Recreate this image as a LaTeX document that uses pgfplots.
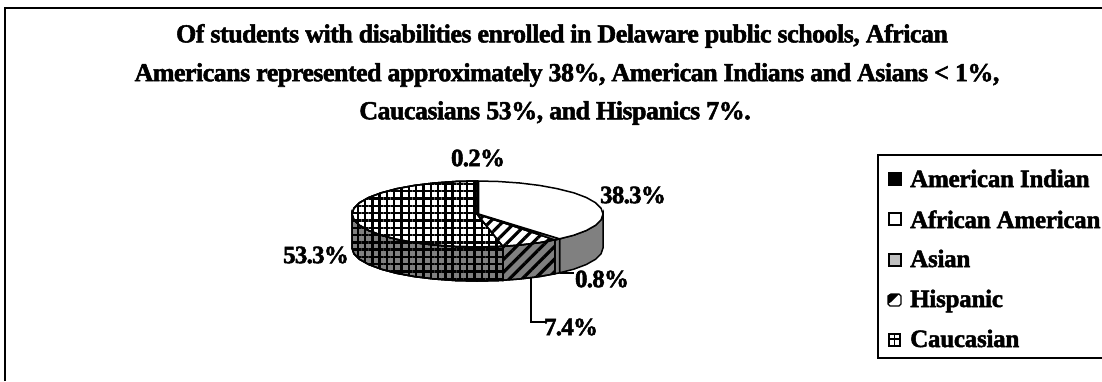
\documentclass[border=0pt]{standalone}
\usepackage{pgfplots}
\pgfplotsset{compat=1.18}
\usepackage{fontspec}
\setmainfont{Liberation Serif}[BoldFeatures={FakeBold=2}]
\usetikzlibrary{patterns.meta}
\tikzset{
  gridfill/.style={
    preaction={fill=#1},
    preaction={pattern={Lines[distance=7.3pt,angle=0,line width=2.4pt]},pattern color=black},
    pattern={Lines[distance=7.3pt,angle=90,line width=2.4pt]},pattern color=black,
    draw=black,line width=1.5pt},
  stripefill/.style={
    preaction={fill=#1},
    pattern={Lines[distance=9pt,angle=45,line width=3.2pt]},pattern color=black,
    draw=black,line width=1.5pt},
  plainfill/.style={fill=#1,draw=black,line width=1.5pt},
}
\begin{document}
\begin{tikzpicture}
\useasboundingbox (0,0) rectangle (1102pt,381pt);
\begin{axis}[
  at={(0,0)},anchor=south west,
  width=1102pt,height=381pt,scale only axis,
  xmin=0,xmax=1102,ymin=0,ymax=381,y dir=reverse,
  hide axis,clip=false,
]
% outer frame and legend box, both open towards the right edge
\addplot[black,line width=2pt] coordinates {(5,381)(5,7.5)(1102,7.5)};
\addplot[black,line width=2pt] coordinates {(1102,155)(878,155)(878,358)(1102,358)};

% side walls of the pie, from the back right round to the left
\addplot[plainfill={gray}] coordinates {
 (603,214)(601.1,219.7)(595.5,225.3)(586.3,230.5)(573.8,235.2)(559.6,238.8)
 (559.6,272.8)(573.8,269.2)(586.3,264.5)(595.5,259.3)(601.1,253.7)(603,248)} --cycle;
\addplot[plainfill={gray}] coordinates {
 (559.6,238.8)(554.8,239.8)(554.8,273.8)(559.6,272.8)} --cycle;
\addplot[stripefill={gray}] coordinates {
 (554.8,239.8)(539.5,242.6)(519.8,245.0)(502.8,246.3)
 (502.8,280.3)(519.8,279.0)(539.5,276.6)(554.8,273.8)} --cycle;
\addplot[gridfill={gray}] coordinates {
 (502.8,246.3)(498.7,246.5)(477,247)(455.3,246.5)(434.2,245.0)(414.5,242.6)(396.6,239.3)
 (381.2,235.2)(368.7,230.5)(359.5,225.3)(353.9,219.7)(352,214)
 (352,248)(353.9,253.7)(359.5,259.3)(368.7,264.5)(381.2,269.2)(396.6,273.3)(414.5,276.6)
 (434.2,279.0)(455.3,280.5)(477,281)(498.7,280.5)(502.8,280.3)} --cycle;

% top face: Caucasian 53.3
\addplot[gridfill=white] coordinates {
 (477,214)(502.8,246.3)(498.7,246.5)(477,247)(455.3,246.5)(434.2,245.0)(414.5,242.6)
 (396.6,239.3)(381.2,235.2)(368.7,230.5)(359.5,225.3)(353.9,219.7)(352,214)(353.9,208.3)
 (359.5,202.7)(368.7,197.5)(381.2,192.8)(396.6,188.7)(414.5,185.4)(434.2,183.0)(455.3,181.5)(477,181)} --cycle;
% top face: Hispanic 7.4
\addplot[stripefill=white] coordinates {
 (477,214)(554.8,239.8)(539.5,242.6)(519.8,245.0)(502.8,246.3)} --cycle;
% top face: Asian 0.8
\addplot[plainfill={gray!50}] coordinates {
 (477,214)(559.6,238.8)(554.8,239.8)} --cycle;
% top face: African American 38.3
\addplot[plainfill=white] coordinates {
 (478.6,214)(478.6,181)(498.7,181.5)(519.8,183.0)(539.5,185.4)(557.4,188.7)(573.8,192.8)
 (586.3,197.5)(595.5,202.7)(601.1,208.3)(603,214)(601.1,219.7)(595.5,225.3)(586.3,230.5)
 (573.8,235.2)(559.6,238.8)} --cycle;
% top face: American Indian 0.2
\addplot[fill=black,draw=black,line width=1pt] coordinates {
 (477,214)(477,181)(478.6,181)(478.6,214)} --cycle;

% leader lines
\addplot[black,line width=1.5pt] coordinates {(531,277)(531,322)(546,322)};
\addplot[black,line width=1.5pt] coordinates {(560,273)(574,273)};

% legend swatches
\addplot[fill=black,draw=black,line width=1.3pt] coordinates {(889,173)(901,173)(901,185)(889,185)} --cycle;
\addplot[fill=white,draw=black,line width=1.3pt] coordinates {(889,213)(901,213)(901,225)(889,225)} --cycle;
\addplot[fill=gray!50,draw=black,line width=1.3pt] coordinates {(889,254)(901,254)(901,266)(889,266)} --cycle;
\addplot[fill=white,draw=black,line width=1.3pt] coordinates {(891,294)(899,294)(901,296)(901,304)(899,306)(890,306)(888,304)(888,296)} --cycle;
\addplot[fill=black,draw=none] coordinates {(891,294)(899,294)(891,302)(888,304)(888,296)} --cycle;
\addplot[fill=white,draw=black,line width=1.3pt] coordinates {(889,334)(900,334)(900,346)(889,346)} --cycle;
\addplot[black,line width=1.2pt] coordinates {(889,339)(900,339)};
\addplot[black,line width=1.2pt] coordinates {(894.5,334)(894.5,346)};

% legend texts, title and percentage labels
\begin{scope}[every node/.style={font=\fontsize{26}{28}\selectfont\bfseries\addfontfeature{LetterSpace=-2},inner sep=0pt}]
\node at (axis cs:562,36) {Of students with disabilities enrolled in Delaware public schools, African};
\node at (axis cs:567,75) {Americans represented approximately 38\%, American Indians and Asians < 1\%,};
\node at (axis cs:555,113) {Caucasians 53\%, and Hispanics 7\%.};
\end{scope}
\begin{scope}[every node/.style={font=\fontsize{25}{27}\selectfont\bfseries\addfontfeature{LetterSpace=-3},inner sep=0pt}]
\node at (axis cs:478,158) {0.2\%};
\node at (axis cs:633,195) {38.3\%};
\node at (axis cs:316,255) {53.3\%};
\node at (axis cs:602,279) {0.8\%};
\node at (axis cs:571,327) {7.4\%};
\end{scope}
\begin{scope}[every node/.style={font=\fontsize{25}{27}\selectfont\bfseries\addfontfeature{LetterSpace=-1},inner sep=0pt,anchor=base west}]
\node at (axis cs:910,187) {American Indian};
\node at (axis cs:910,228) {African American};
\node at (axis cs:910,267) {Asian};
\node at (axis cs:910,307) {Hispanic};
\node at (axis cs:910,347) {Caucasian};
\end{scope}
\end{axis}
\end{tikzpicture}
\end{document}
